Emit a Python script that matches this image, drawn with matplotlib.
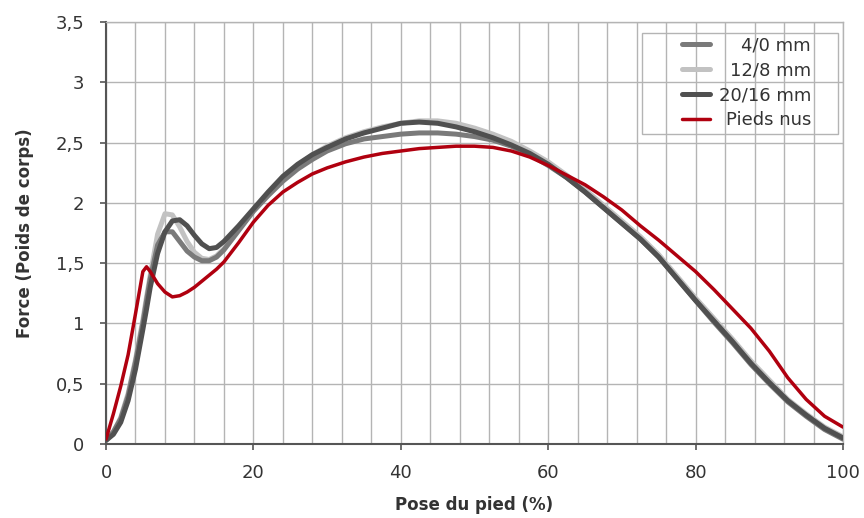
import matplotlib
matplotlib.use("Agg")
import matplotlib.pyplot as plt
from matplotlib.ticker import MultipleLocator, FuncFormatter
from matplotlib.legend_handler import HandlerLine2D
from matplotlib.patches import Rectangle

plt.rcParams['font.family'] = ['DejaVu Sans']

# Pose du pied (%)
pose = [0, 1, 2, 3, 4, 5, 5.5, 6, 7, 8, 9, 10, 11, 12, 13, 14, 15, 16, 18, 20, 22, 24, 26, 28, 30,
        32.5, 35, 37.5, 40, 42.5, 45, 47.5, 50, 52.5, 55, 57.5, 60, 62.5, 65, 67.5, 70,
        72.5, 75, 77.5, 80, 82.5, 85, 87.5, 90, 92.5, 95, 97.5, 100]

# Force (poids de corps)
f_4_0 = [0.03, 0.10, 0.21, 0.40, 0.68, 1.00, 1.19, 1.37, 1.65, 1.76, 1.76, 1.68, 1.60, 1.55, 1.52, 1.52, 1.55, 1.61,
         1.77, 1.93, 2.06, 2.18, 2.28, 2.36, 2.43, 2.49, 2.53, 2.55, 2.57, 2.58, 2.58, 2.57, 2.55, 2.52,
         2.47, 2.40, 2.31, 2.21, 2.09, 1.96, 1.83, 1.70, 1.55, 1.37, 1.19, 1.01, 0.84, 0.66, 0.50, 0.35,
         0.23, 0.12, 0.04]
f_12_8 = [0.03, 0.10, 0.22, 0.42, 0.70, 1.03, 1.22, 1.40, 1.74, 1.91, 1.90, 1.80, 1.68, 1.59, 1.54, 1.53, 1.56, 1.62,
          1.78, 1.94, 2.08, 2.21, 2.31, 2.40, 2.47, 2.54, 2.59, 2.63, 2.66, 2.68, 2.68, 2.66, 2.62, 2.57,
          2.51, 2.43, 2.34, 2.23, 2.11, 1.98, 1.85, 1.72, 1.57, 1.39, 1.21, 1.04, 0.87, 0.69, 0.53, 0.37,
          0.25, 0.14, 0.06]
f_20_16 = [0.03, 0.08, 0.18, 0.36, 0.62, 0.95, 1.12, 1.30, 1.58, 1.76, 1.85, 1.86, 1.81, 1.73, 1.66, 1.62, 1.63, 1.68,
           1.81, 1.95, 2.09, 2.22, 2.32, 2.40, 2.46, 2.53, 2.58, 2.62, 2.66, 2.67, 2.66, 2.63, 2.59, 2.54,
           2.48, 2.41, 2.32, 2.21, 2.09, 1.96, 1.83, 1.70, 1.55, 1.37, 1.19, 1.02, 0.85, 0.67, 0.51, 0.36,
           0.24, 0.13, 0.05]
f_nus = [0.04, 0.25, 0.48, 0.74, 1.08, 1.43, 1.47, 1.43, 1.33, 1.26, 1.22, 1.23, 1.26, 1.30, 1.35, 1.40, 1.45, 1.51,
         1.67, 1.84, 1.98, 2.09, 2.17, 2.24, 2.29, 2.34, 2.38, 2.41, 2.43, 2.45, 2.46, 2.47, 2.47, 2.46,
         2.43, 2.38, 2.31, 2.23, 2.15, 2.05, 1.94, 1.81, 1.69, 1.56, 1.43, 1.28, 1.12, 0.96, 0.77, 0.55,
         0.37, 0.23, 0.14]

TXT = '#333333'
GRID = '#b4b4b4'

fig = plt.figure(figsize=(8.64, 5.18), dpi=100)
ax = fig.add_axes([0.1227, 0.1429, 0.853, 0.8146])

kw = dict(solid_capstyle='round', solid_joinstyle='round')
ax.plot(pose, f_12_8, color='#c2c2c2', lw=3.6, label='12/8 mm', zorder=3, **kw)
ax.plot(pose, f_4_0, color='#7a7a7a', lw=3.6, label='4/0 mm', zorder=4, **kw)
ax.plot(pose, f_20_16, color='#505050', lw=3.6, label='20/16 mm', zorder=5, **kw)
ax.plot(pose, f_nus, color='#b0000f', lw=2.5, label='Pieds nus', zorder=6, **kw)

ax.set_xlim(0, 100)
ax.set_ylim(0, 3.5)
ax.xaxis.set_major_locator(MultipleLocator(20))
ax.xaxis.set_minor_locator(MultipleLocator(4))
ax.yaxis.set_major_locator(MultipleLocator(0.5))
ax.yaxis.set_major_formatter(FuncFormatter(lambda v, p: ('%g' % v).replace('.', ',')))

ax.grid(True, which='both', axis='x', color=GRID, lw=1)
ax.grid(True, which='major', axis='y', color=GRID, lw=1)
ax.set_axisbelow(True)
ax.tick_params(axis='x', which='minor', length=0)
ax.tick_params(which='major', length=4.5, width=1.2, color='#555555', labelsize=13,
               labelcolor=TXT)
ax.tick_params(axis='x', pad=10)
ax.tick_params(axis='y', pad=11)

for s in ['left', 'bottom']:
    ax.spines[s].set_color('#555555')
    ax.spines[s].set_linewidth(1.5)
for s in ['top', 'right']:
    ax.spines[s].set_color(GRID)
    ax.spines[s].set_linewidth(1)

ax.set_xlabel('Pose du pied (%)', fontsize=12, fontweight='bold', color=TXT, labelpad=10)
ax.set_ylabel('Force (Poids de corps)', fontsize=12, fontweight='bold', color=TXT, labelpad=16)


class RightLine(HandlerLine2D):
    # short line drawn only in the right part of the handle box (units: points)
    def get_xdata(self, legend, xdescent, ydescent, width, height, fontsize):
        x1 = -xdescent + width - 1.5
        x0 = x1 - 20
        return [x0, x1], [x0, x1]


h, l = ax.get_legend_handles_labels()
order = [1, 0, 2, 3]
leg = ax.legend([h[i] for i in order], [l[i] for i in order], loc='upper right',
                bbox_to_anchor=(0.9566, 0.965), fontsize=13, frameon=False,
                handlelength=3.2, handletextpad=0.35, labelspacing=0.37,
                borderpad=0.0, borderaxespad=0.0,
                handler_map={h[i]: RightLine() for i in range(4)})
for t in leg.get_texts():
    t.set_color(TXT)
renderer = fig.canvas.get_renderer()
widths = [t.get_window_extent(renderer).width for t in leg.get_texts()]
wmax = max(widths)
for t, w in zip(leg.get_texts(), widths):
    t.set_position((wmax - w, 0))

# legend box (wider padding left and right, as in the original)
bb = leg.get_window_extent(renderer)
inv = fig.transFigure.inverted()
(x0, y0), (x1, y1) = inv.transform([(bb.x0 - 13, bb.y0 - 5), (bb.x1 + 27, bb.y1 + 4)])
fig.patches.append(Rectangle((x0, y0), x1 - x0, y1 - y0, transform=fig.transFigure,
                             facecolor='white', edgecolor=GRID, lw=1, zorder=1.5))
ax.set_zorder(2)
ax.patch.set_alpha(0)

fig.savefig('out.png', dpi=100)
